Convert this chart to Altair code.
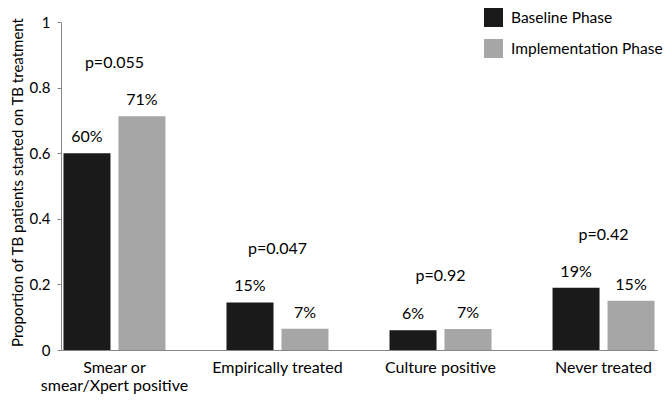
import altair as alt
import pandas as pd

categories = ["Smear or smear/Xpert positive", "Empirically treated", "Culture positive", "Never treated"]
phases = ["Baseline Phase", "Implementation Phase"]
baseline = [0.60, 0.145, 0.06, 0.19]
implementation = [0.713, 0.065, 0.064, 0.15]
baseline_labels = ["60%", "15%", "6%", "19%"]
implementation_labels = ["71%", "7%", "7%", "15%"]
p_values = ["p=0.055", "p=0.047", "p=0.92", "p=0.42"]

rows = []
for c, v, t in zip(categories, baseline, baseline_labels):
    rows.append({"category": c, "phase": phases[0], "value": v, "label": t})
for c, v, t in zip(categories, implementation, implementation_labels):
    rows.append({"category": c, "phase": phases[1], "value": v, "label": t})
df = pd.DataFrame(rows)

pdf = pd.DataFrame({
    "category": categories,
    "top": [max(a, b) for a, b in zip(baseline, implementation)],
    "p": p_values,
})

FONT = "Lato"

x_enc = alt.X(
    "category:N",
    sort=categories,
    scale=alt.Scale(paddingInner=0.344, paddingOuter=0),
    axis=alt.Axis(
        title=None,
        labelAngle=0,
        ticks=False,
        labelPadding=9,
        labelFontSize=16,
        labelLineHeight=18,
        labelBaseline="top",
        labelExpr="datum.value == 'Smear or smear/Xpert positive' ? ['Smear or', 'smear/Xpert positive'] : datum.value",
    ),
)
xoff = alt.XOffset("phase:N", sort=phases, scale=alt.Scale(paddingInner=0.145, paddingOuter=0.045))
y_enc = alt.Y(
    "value:Q",
    scale=alt.Scale(domain=[0, 1], nice=False),
    axis=alt.Axis(
        title="Proportion of TB patients started on TB treatment",
        values=[0, 0.2, 0.4, 0.6, 0.8, 1],
        format="~g",
        grid=False,
        tickSize=4,
        labelPadding=7,
        labelFontSize=15,
        titleFontSize=15,
        titleFontWeight="normal",
        titlePadding=4,
        titleY=160,
    ),
)

bars = alt.Chart(df).mark_bar().encode(
    x=x_enc,
    xOffset=xoff,
    y=y_enc,
    color=alt.Color(
        "phase:N",
        sort=phases,
        scale=alt.Scale(domain=phases, range=["#1a1a1a", "#a6a6a6"]),
        legend=alt.Legend(
            orient="none",
            legendX=423,
            legendY=-14,
            title=None,
            symbolType="square",
            symbolSize=361,
            symbolStrokeWidth=0,
            labelFontSize=15.5,
            labelOffset=8,
            labelLimit=200,
            rowPadding=12,
            padding=0,
        ),
    ),
)

bar_text = alt.Chart(df).mark_text(fontSize=16, baseline="middle", dy=-16, color="#000000").encode(
    x=alt.X("category:N", sort=categories),
    xOffset=alt.XOffset("phase:N", sort=phases),
    y=alt.Y("value:Q"),
    text="label:N",
)

p_text = alt.Chart(pdf).mark_text(fontSize=16, baseline="middle", dy=-53, color="#000000").encode(
    x=alt.X("category:N", sort=categories),
    y=alt.Y("top:Q"),
    text="p:N",
)

chart = alt.layer(bars, bar_text, p_text).properties(
    width=596,
    height=328,
    autosize=alt.AutoSizeParams(type="none"),
    padding={"left": 53, "top": 14, "right": 7, "bottom": 45},
).configure_view(stroke=None).configure_axis(
    domainColor="#868686",
    tickColor="#868686",
    labelColor="#000000",
    titleColor="#000000",
    labelFont=FONT,
    titleFont=FONT,
).configure_legend(labelFont=FONT, labelColor="#000000").configure_text(font=FONT)

chart.save("out.html", embed_options={"renderer": "svg", "actions": False})
